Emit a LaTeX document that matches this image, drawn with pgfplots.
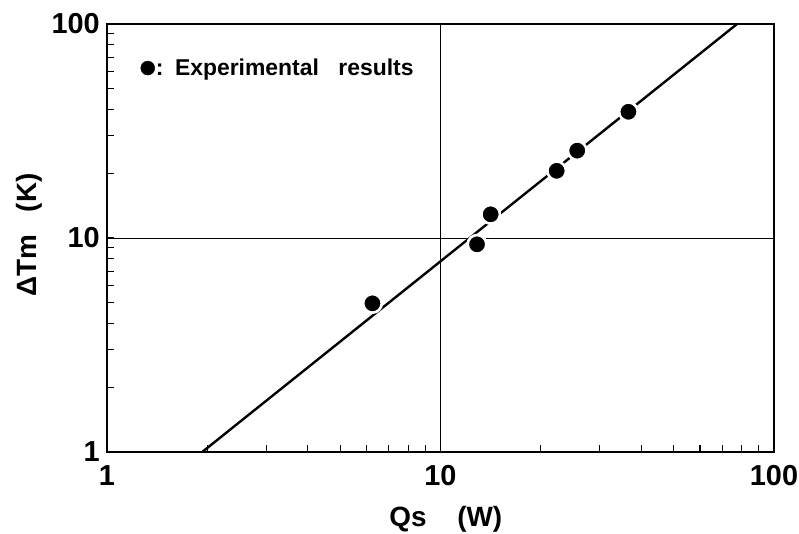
\documentclass[border=0pt]{standalone}
\usepackage{pgfplots}
\pgfplotsset{compat=1.18}
\usepackage{fontspec}
\setmainfont{Liberation Sans}
\begin{document}
\begin{tikzpicture}
\begin{loglogaxis}[
  scale only axis,
  width=667bp, height=428bp,
  at={(0,0)}, anchor=south west,
  xmin=1, xmax=100, ymin=1, ymax=100,
  xtick={1,10,100}, xticklabels={1,10,100},
  ytick={1,10,100}, yticklabels={1,10,100},
  /pgf/number format/assume math mode=true,
  tick label style={font=\fontsize{29}{29}\selectfont\bfseries, inner sep=0pt},
  xticklabel style={yshift=-13bp},
  yticklabel style={xshift=-7bp},
  tick pos=left,
  tick align=inside,
  major tick length=0pt,
  minor tick length=7bp,
  every tick/.style={black, line width=1.2bp},
  axis line style={line width=2bp},
  grid=major,
  major grid style={black, line width=0.9bp},
  xlabel={Qs\hspace{1.1em}(W)},
  ylabel={ΔTm\hspace{0.8em}(K)},
  xlabel style={font=\fontsize{28}{28}\selectfont\bfseries, at={(axis description cs:0.508,-0.173)}, anchor=base},
  ylabel style={font=\fontsize{28}{28}\selectfont\bfseries, at={(axis description cs:-0.105,0.507)}, anchor=base},
  legend style={draw=none, fill=none, at={(axis description cs:0.050,0.897)}, anchor=west,
    font=\fontsize{23}{23}\selectfont\bfseries, inner sep=0pt, nodes={inner sep=1bp}},
  legend image code/.code={\fill[black] (7bp,0bp) circle (7bp);},
  legend cell align=left,
]
\addplot[black, line width=2.4bp, forget plot] coordinates {(1.93,1) (77.5,100)};
\addplot[only marks, mark=*, mark size=9.3bp,
  mark options={fill=black, draw=white, line width=2.6bp}]
  coordinates {
  (6.25,4.95) (12.87,9.34) (14.14,12.9) (22.3,20.6) (25.7,25.6) (36.6,38.9)
  };
\addlegendentry{:\hspace{0.5em}Experimental\hspace{0.85em}results}
\end{loglogaxis}
\pgfresetboundingbox
\path[use as bounding box] (-107bp,-82bp) rectangle (692bp,452bp);
\end{tikzpicture}
\end{document}
